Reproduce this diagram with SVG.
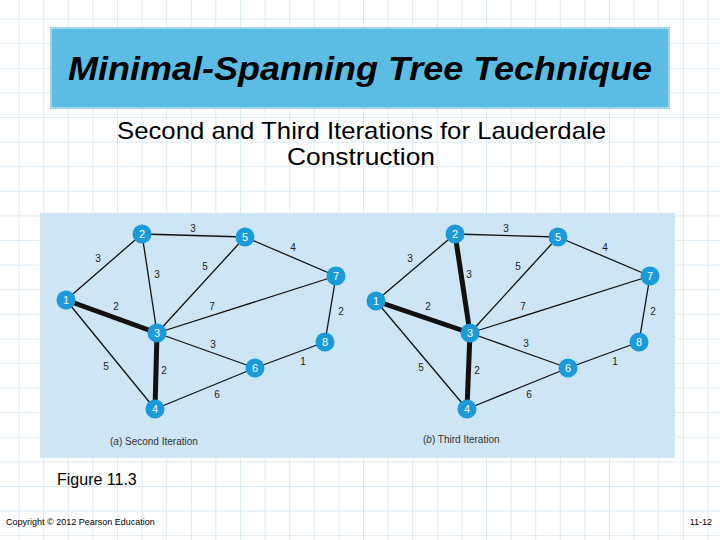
<svg xmlns="http://www.w3.org/2000/svg" width="720" height="540" viewBox="0 0 720 540">
<defs>
<pattern id="g" width="24.6" height="24.6" patternUnits="userSpaceOnUse" x="-6" y="-6">
<path d="M0 0H24.6M0 0V24.6" fill="none" stroke="#bcd8ee" stroke-width="1"/>
</pattern>
<style>
.e{stroke:#111;stroke-width:1.3;fill:none}
.t{stroke:#111;stroke-width:5;fill:none}
.n circle{fill:#1a9ad8}
.n text{fill:#fff;font:11px "Liberation Sans",sans-serif;text-anchor:middle}
.w{font:10px "Liberation Sans",sans-serif;fill:#222;text-anchor:middle}
.c{font:10px "Liberation Sans",sans-serif;fill:#333}
</style>
</defs>
<rect width="720" height="540" fill="#fff"/>
<rect width="720" height="540" fill="url(#g)"/>
<rect x="51" y="28" width="618" height="80" fill="#5cbde4" stroke="#9ed4ee" stroke-width="2"/>
<text x="68" y="80" textLength="584" lengthAdjust="spacingAndGlyphs" font-family="Liberation Sans,sans-serif" font-size="33" font-style="italic" font-weight="bold">Minimal-Spanning Tree Technique</text>
<text x="117" y="139" textLength="489" lengthAdjust="spacingAndGlyphs" font-family="Liberation Sans,sans-serif" font-size="24">Second and Third Iterations for Lauderdale</text>
<text x="361" y="165" text-anchor="middle" font-family="Liberation Sans,sans-serif" font-size="24" textLength="148" lengthAdjust="spacingAndGlyphs">Construction</text>
<rect x="40" y="213" width="635" height="245" fill="#cde5f5"/>
<g id="connectors">
<path class="e" d="M66 300L142 234M142 234L245 237M142 234L157 333M245 237L157 333M245 237L336 276M336 276L157 333M336 276L325 342M66 300L155 409M157 333L255 368M255 368L325 342M155 409L255 368"/>
<path class="t" d="M66 300L157 333M157 333L155 409"/>
<path class="e" d="M376 301L455 234M455 234L558 237M558 237L470 333M558 237L650 276M650 276L470 333M650 276L639 342M376 301L467 409M470 333L568 368M568 368L639 342M467 409L568 368"/>
<path class="t" d="M376 301L470 333M470 333L467 409M455 234L470 333"/>
</g>
<g class="w">
<text x="193" y="232">3</text><text x="98" y="262">3</text><text x="157" y="278">3</text><text x="205" y="270">5</text><text x="293" y="251">4</text><text x="116" y="310">2</text><text x="212" y="310">7</text><text x="341" y="315">2</text><text x="213" y="348">3</text><text x="303" y="365">1</text><text x="106" y="370">5</text><text x="164" y="374">2</text><text x="217" y="398">6</text>
<text x="506" y="232">3</text><text x="410" y="262">3</text><text x="469" y="278">3</text><text x="518" y="270">5</text><text x="605" y="251">4</text><text x="428" y="310">2</text><text x="523" y="310">7</text><text x="653" y="315">2</text><text x="526" y="347">3</text><text x="615" y="365">1</text><text x="421" y="371">5</text><text x="477" y="374">2</text><text x="529" y="398">6</text>
</g>
<g id="a1" class="n"><circle cx="66" cy="300" r="9.5"/><text x="66" y="304">1</text></g>
<g id="a2" class="n"><circle cx="142" cy="234" r="9.5"/><text x="142" y="238">2</text></g>
<g id="a3" class="n"><circle cx="157" cy="333" r="9.5"/><text x="157" y="337">3</text></g>
<g id="a4" class="n"><circle cx="155" cy="409" r="9.5"/><text x="155" y="413">4</text></g>
<g id="a5" class="n"><circle cx="245" cy="237" r="9.5"/><text x="245" y="241">5</text></g>
<g id="a6" class="n"><circle cx="255" cy="368" r="9.5"/><text x="255" y="372">6</text></g>
<g id="a7" class="n"><circle cx="336" cy="276" r="9.5"/><text x="336" y="280">7</text></g>
<g id="a8" class="n"><circle cx="325" cy="342" r="9.5"/><text x="325" y="346">8</text></g>
<g id="b1" class="n"><circle cx="376" cy="301" r="9.5"/><text x="376" y="305">1</text></g>
<g id="b2" class="n"><circle cx="455" cy="234" r="9.5"/><text x="455" y="238">2</text></g>
<g id="b3" class="n"><circle cx="470" cy="333" r="9.5"/><text x="470" y="337">3</text></g>
<g id="b4" class="n"><circle cx="467" cy="409" r="9.5"/><text x="467" y="413">4</text></g>
<g id="b5" class="n"><circle cx="558" cy="237" r="9.5"/><text x="558" y="241">5</text></g>
<g id="b6" class="n"><circle cx="568" cy="368" r="9.5"/><text x="568" y="372">6</text></g>
<g id="b7" class="n"><circle cx="650" cy="276" r="9.5"/><text x="650" y="280">7</text></g>
<g id="b8" class="n"><circle cx="639" cy="342" r="9.5"/><text x="639" y="346">8</text></g>
<text class="c" x="110" y="445">(<tspan font-style="italic">a</tspan>) Second Iteration</text>
<text class="c" x="423" y="443">(<tspan font-style="italic">b</tspan>) Third Iteration</text>
<text x="57" y="485" font-family="Liberation Sans,sans-serif" font-size="16">Figure 11.3</text>
<text x="6" y="525" font-family="Liberation Sans,sans-serif" font-size="9">Copyright © 2012 Pearson Education</text>
<text x="712" y="525" text-anchor="end" font-family="Liberation Sans,sans-serif" font-size="9">11-12</text>
</svg>
